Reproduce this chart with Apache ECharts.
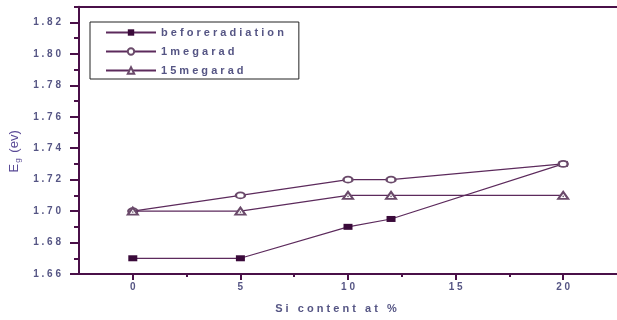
<!DOCTYPE html>
<html>
<head>
<meta charset="utf-8">
<script src="https://cdn.jsdelivr.net/npm/echarts@6/dist/echarts.min.js"></script>
<style>
  html, body { margin: 0; padding: 0; background: #fff; }
  #chart { width: 617px; height: 320px; }
</style>
</head>
<body>
<div id="chart"></div>
<script>
// Si content (at %) for each measured sample
const siContent = [0, 5, 10, 12, 20];
// Band gap Eg (eV) per dose
const beforeRadiation = [1.67, 1.67, 1.69, 1.695, 1.73];
const oneMegarad = [1.70, 1.71, 1.72, 1.72, 1.73];
const fifteenMegarad = [1.70, 1.70, 1.71, 1.71, 1.71];
const seriesNames = ['beforeradiation', '1megarad', '15megarad'];

// Tick positions
const xMajorTicks = [0, 5, 10, 15, 20];
const xMinorTicks = [2.5, 7.5, 12.5, 17.5];
const yMajorTicks = [1.66, 1.68, 1.70, 1.72, 1.74, 1.76, 1.78, 1.80, 1.82];
const yMinorTicks = [1.67, 1.69, 1.71, 1.73, 1.75, 1.77, 1.79, 1.81, 1.83];

const axisColor = '#4a1048';
const lineColor = '#5c2a5c';
const markerEdge = '#6a4a6a';
const textColor = '#555584';
const font = 'Liberation Sans, Arial, sans-serif';

// letters drawn with wide tracking
const spaced = s => s.split(' ').map(w => w.split('').join(' ')).join('   ');
const pairs = ys => siContent.map((x, i) => [x, ys[i]]);

const baseX = {
  type: 'value', gridIndex: 0, min: -2.5, max: 22.5,
  splitLine: { show: false }
};
const baseY = {
  type: 'value', gridIndex: 0, min: 1.66, max: 1.83,
  splitLine: { show: false }
};

const chart = echarts.init(document.getElementById('chart'), null, { renderer: 'canvas' });
chart.setOption({
  animation: false,
  backgroundColor: '#fff',
  grid: { left: 77, top: 6.7, width: 542, height: 267.3, containLabel: false },
  xAxis: [
    Object.assign({}, baseX, {
      position: 'bottom',
      axisLine: { onZero: false, lineStyle: { color: axisColor, width: 2 } },
      axisTick: { customValues: xMajorTicks, length: 6, lineStyle: { color: axisColor, width: 2 } },
      axisLabel: {
        customValues: xMajorTicks, margin: 8, color: textColor,
        fontFamily: font, fontSize: 10, fontWeight: 'bold',
        formatter: v => spaced(String(v))
      },
      name: spaced('Si content at %'), nameLocation: 'middle', nameGap: 29,
      nameTextStyle: {
        color: textColor, fontFamily: font, fontSize: 11, fontWeight: 'bold',
        padding: [0, 24, 0, 0]
      }
    }),
    Object.assign({}, baseX, {
      position: 'bottom',
      axisLine: { show: false, onZero: false },
      axisTick: { customValues: xMinorTicks, length: 3, lineStyle: { color: axisColor, width: 2 } },
      axisLabel: { show: false }
    }),
    Object.assign({}, baseX, {
      position: 'top',
      axisLine: { onZero: false, lineStyle: { color: axisColor, width: 2 } },
      axisTick: { show: false },
      axisLabel: { show: false }
    })
  ],
  yAxis: [
    Object.assign({}, baseY, {
      position: 'left',
      axisLine: { onZero: false, lineStyle: { color: axisColor, width: 2 } },
      axisTick: { customValues: yMajorTicks, length: 9, lineStyle: { color: axisColor, width: 2 } },
      axisLabel: {
        customValues: yMajorTicks, margin: 18, color: textColor,
        fontFamily: font, fontSize: 10, fontWeight: 'bold',
        formatter: v => spaced(v.toFixed(2))
      },
      name: '{e|E}{g|g}{e| (ev)}', nameLocation: 'middle', nameRotate: 90, nameGap: 57,
      nameTextStyle: {
        color: textColor, fontFamily: font,
        padding: [0, 22, 0, 0],
        rich: {
          e: { fontSize: 13, fontFamily: font, color: '#5a4a96' },
          g: { fontSize: 8, fontFamily: font, color: '#5a4a96', verticalAlign: 'bottom', padding: [7, 2, 0, 1] }
        }
      }
    }),
    Object.assign({}, baseY, {
      position: 'left',
      axisLine: { show: false, onZero: false },
      axisTick: { customValues: yMinorTicks, length: 5, lineStyle: { color: axisColor, width: 2 } },
      axisLabel: { show: false }
    })
  ],
  legend: {
    orient: 'vertical', left: 90, top: 22,
    padding: [5, 15, 3, 15],
    itemWidth: 50, itemHeight: 8, itemGap: 8, itemTextGap: 3,
    borderColor: '#222', borderWidth: 1, borderRadius: 0, backgroundColor: '#fff',
    data: seriesNames,
    formatter: n => spaced(n),
    textStyle: { color: textColor, fontFamily: font, fontSize: 11, fontWeight: 'bold' }
  },
  series: [
    {
      name: seriesNames[0], type: 'line', xAxisIndex: 0, yAxisIndex: 0,
      data: pairs(beforeRadiation),
      symbol: 'rect', symbolSize: [9, 6],
      lineStyle: { color: lineColor, width: 1.2 },
      itemStyle: { color: '#3a0a3a', borderWidth: 0 },
      z: 3
    },
    {
      name: seriesNames[1], type: 'line', xAxisIndex: 0, yAxisIndex: 0,
      data: pairs(oneMegarad),
      symbol: 'emptyCircle', symbolSize: [9, 6],
      lineStyle: { color: lineColor, width: 1.2 },
      itemStyle: { color: markerEdge, borderColor: markerEdge, borderWidth: 1.2 },
      z: 3
    },
    {
      name: seriesNames[2], type: 'line', xAxisIndex: 0, yAxisIndex: 0,
      data: pairs(fifteenMegarad),
      symbol: 'emptyTriangle', symbolSize: [10, 7],
      lineStyle: { color: lineColor, width: 1.2 },
      itemStyle: { color: markerEdge, borderColor: markerEdge, borderWidth: 1.2 },
      z: 4
    },
    {
      // centre dot inside each triangle marker
      name: seriesNames[2] + '-dot', type: 'scatter', xAxisIndex: 0, yAxisIndex: 0,
      data: pairs(fifteenMegarad),
      symbol: 'circle', symbolSize: 1.6, symbolOffset: [0, 1],
      itemStyle: { color: '#4a2a4a' },
      silent: true, z: 5
    }
  ]
});
</script>
</body>
</html>
